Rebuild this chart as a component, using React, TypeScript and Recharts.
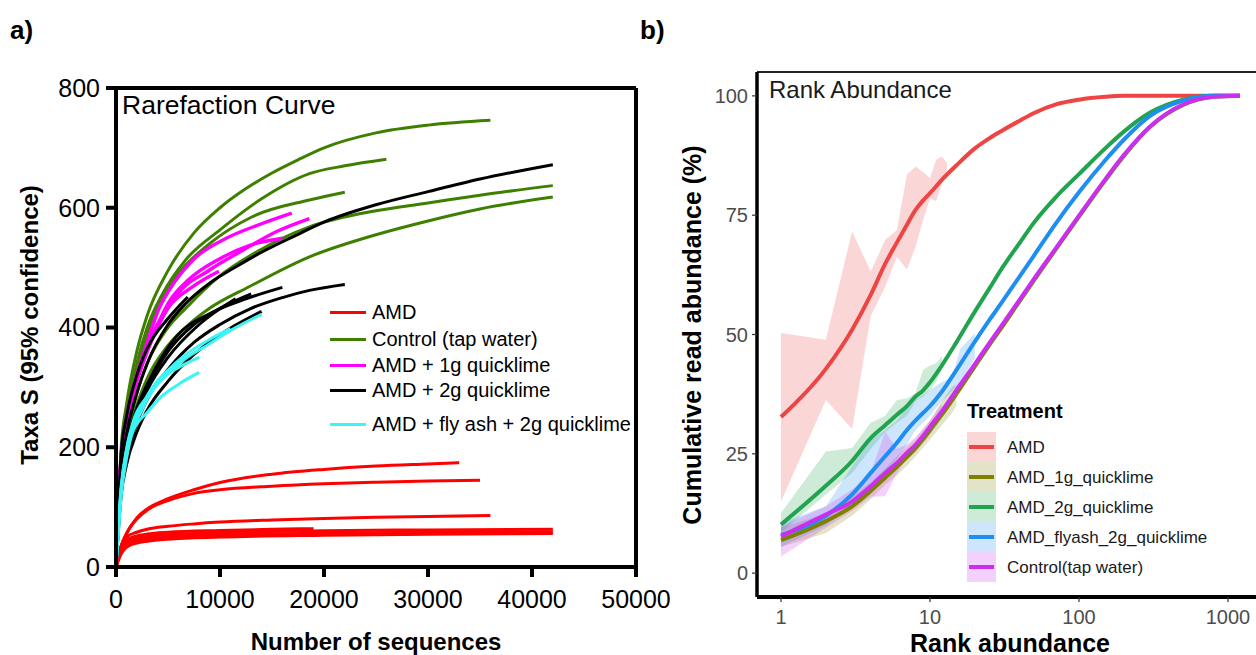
import React from "react";
import {
  LineChart, Line, ComposedChart, Area, XAxis, YAxis, ReferenceLine,
} from "recharts";

const FONT = "'Liberation Sans', Arial, Helvetica, sans-serif";

// ---------- a) Rarefaction curves: [number of sequences, taxa S] per sample
const AMD_CURVES: [number, number][][] = [
  [[0, 0], [500, 35], [1000, 56], [2000, 82], [3000, 97], [5000, 114], [7500, 129], [10000, 141], [15000, 155], [20000, 163], [25000, 168.5], [30000, 172], [33000, 174]],
  [[0, 0], [500, 35], [1000, 55], [2000, 80], [3000, 95], [5000, 111], [7500, 123], [10000, 129], [15000, 135], [20000, 139], [25000, 141.5], [30000, 143.5], [35000, 145]],
  [[0, 0], [500, 35], [1000, 50], [2000, 58], [3000, 63], [5000, 68], [7500, 72], [10000, 75], [15000, 78.5], [20000, 81], [25000, 83], [30000, 84.5], [36000, 86]],
  [[0, 0], [500, 28], [1000, 42], [2000, 48], [3000, 51], [5000, 54], [10000, 57.5], [20000, 60.5], [30000, 62], [42000, 63]],
  [[0, 0], [500, 30], [1000, 45], [2000, 52], [3000, 55], [5000, 58], [10000, 61], [15000, 63], [19000, 64]],
  [[0, 0], [500, 25], [1000, 38], [2000, 44], [3000, 47], [5000, 50], [10000, 53.5], [20000, 56.5], [30000, 58], [42000, 59]],
  [[0, 0], [500, 22], [1000, 33], [2000, 40], [3000, 43], [5000, 46.5], [10000, 50], [20000, 53], [30000, 54.8], [42000, 56]],
];

const CONTROL_CURVES: [number, number][][] = [
  [[0, 0], [500, 200], [1000, 270], [2000, 360], [3000, 420], [5000, 495], [7500, 558], [10000, 600], [12500, 632], [15000, 658], [17500, 680], [20000, 700], [25000, 725], [30000, 738], [36000, 746]],
  [[0, 0], [500, 190], [1000, 255], [2000, 340], [3000, 400], [4500, 457], [6700, 513], [10000, 563], [14000, 615], [18600, 657], [22000, 670], [26000, 681]],
  [[0, 0], [500, 185], [1000, 250], [2000, 330], [3000, 390], [4100, 440], [5750, 485], [9000, 540], [13100, 585], [18600, 613], [22000, 626]],
  [[0, 0], [500, 150], [1000, 210], [2000, 290], [3000, 340], [5000, 400], [6700, 432], [9900, 485], [13800, 529], [18600, 568], [25000, 595], [30000, 608], [35000, 621], [42000, 637]],
  [[0, 0], [500, 140], [1000, 200], [2000, 270], [3000, 315], [5000, 370], [7000, 405], [9000, 432], [12800, 468], [18600, 518], [25000, 555], [30000, 578], [35000, 598], [42000, 618]],
];

const Q1G_CURVES: [number, number][][] = [
  [[0, 0], [500, 185], [1000, 245], [2000, 320], [3000, 375], [4100, 430], [5100, 462], [7350, 512], [10600, 549], [13800, 572], [16900, 591]],
  [[0, 0], [500, 180], [1000, 240], [2000, 310], [3000, 360], [4000, 400], [5750, 452], [9000, 496], [12200, 529], [15400, 560], [18600, 582]],
  [[0, 0], [500, 180], [1000, 240], [2000, 310], [3000, 360], [5000, 440], [7000, 480], [10000, 515], [13000, 538], [16000, 549]],
  [[0, 0], [500, 185], [1000, 245], [2000, 320], [3000, 370], [5100, 435], [7350, 468], [9900, 494]],
];

const Q2G_CURVES: [number, number][][] = [
  [[0, 0], [500, 160], [1000, 220], [2000, 290], [3000, 340], [5000, 405], [6700, 440], [9000, 474], [11500, 501], [13800, 524], [17300, 554], [20000, 576], [25000, 605], [30000, 627], [35000, 648], [42000, 672]],
  [[0, 0], [500, 130], [1000, 180], [2000, 240], [3000, 280], [5000, 330], [7500, 375], [10000, 405], [13000, 432], [16000, 450], [18600, 462], [22000, 472]],
  [[0, 0], [500, 150], [1000, 200], [2000, 265], [3000, 305], [5750, 384], [9000, 423], [12200, 446], [16000, 467]],
  [[0, 0], [500, 145], [1000, 195], [2000, 260], [3000, 300], [5000, 360], [7500, 405], [10000, 432], [13000, 456]],
  [[0, 0], [500, 120], [1000, 170], [2000, 225], [3000, 262], [5000, 310], [7500, 355], [10000, 388], [14000, 427]],
  [[0, 0], [500, 190], [1000, 250], [2000, 320], [3000, 365], [5000, 415], [6900, 451]],
  [[0, 0], [500, 140], [1000, 190], [2000, 255], [3000, 295], [5000, 350], [8000, 405], [11500, 448]],
];

const FLYASH_CURVES: [number, number][][] = [
  [[0, 0], [500, 130], [1000, 190], [2500, 262], [5700, 334], [9000, 373], [11000, 395], [14000, 422]],
  [[0, 0], [500, 135], [1000, 195], [2500, 268], [5700, 340], [9000, 380], [11000, 398]],
  [[0, 0], [500, 130], [1000, 195], [1600, 240], [3000, 285], [4100, 310], [6000, 333], [8000, 350]],
  [[0, 0], [500, 120], [1000, 180], [1600, 225], [3000, 258], [4100, 280], [6000, 305], [8000, 325]],
];

const A_X_TICKS = [0, 10000, 20000, 30000, 40000, 50000];
const A_Y_TICKS = [0, 200, 400, 600, 800];

const A_GROUPS = [
  { name: "AMD", color: "#FF0000", curves: AMD_CURVES, width: 3 },
  { name: "Control (tap water)", color: "#3F7F00", curves: CONTROL_CURVES, width: 3 },
  { name: "AMD + 1g quicklime", color: "#FF00FF", curves: Q1G_CURVES, width: 3.4 },
  { name: "AMD + 2g quicklime", color: "#000000", curves: Q2G_CURVES, width: 3 },
  { name: "AMD + fly ash + 2g quicklime", color: "#3CF4F4", curves: FLYASH_CURVES, width: 3 },
];
const A_LEGEND_Y = [312, 339, 365, 390, 424];

// ---------- b) Rank abundance: cumulative read abundance (%) at rank
const LINE_RANKS = [1, 2, 3, 4, 5, 6, 7, 8, 9, 10, 12, 15, 20, 25, 30, 40, 50, 70, 100, 150, 200, 300, 500, 800, 1200];
const AMD_CUM = [32.7, 42.8, 51, 58.3, 64.8, 69.3, 73, 76.1, 78.1, 79.6, 82.4, 85.4, 89, 91.1, 92.6, 94.8, 96.4, 98.2, 99.2, 99.8, 100, 100, 100, 100, 100];
const Q1G_CUM = [6.9, 10.9, 14, 17.2, 20, 22.3, 24.3, 26.2, 28.1, 30, 33.2, 37.5, 43.3, 47.8, 51.3, 57, 61.4, 67.9, 74.7, 82.3, 87.4, 93.5, 98.1, 99.8, 100];
const Q2G_CUM = [10.2, 18.3, 23.5, 28.3, 31, 33.2, 35, 37, 38.3, 40, 43.5, 48.3, 54.8, 59.6, 63.6, 69.2, 73.5, 78.8, 83.6, 89, 92.5, 96.5, 99.2, 100, 100];
const FLY_CUM = [8, 12, 16.5, 21, 24.5, 27.3, 30, 32, 33.6, 35, 38, 42.5, 48.5, 53, 56.5, 62.2, 66.6, 73.3, 79.8, 86.5, 90.8, 95.8, 99, 100, 100];
const CTRL_CUM = [7.7, 12.3, 15, 18.2, 21, 23.1, 25.2, 26.9, 28.8, 30.7, 33.9, 38.3, 43.8, 48.2, 51.7, 57.3, 61.7, 68.1, 74.9, 82.5, 87.6, 93.6, 98.2, 99.8, 100];

// confidence ribbons (low / high) at low ranks
const AMD_BAND_RANKS = [1, 2, 3, 4, 5, 6, 7, 8, 9, 10, 11, 12, 13];
const AMD_BAND_LO = [15, 36.3, 30.2, 53.8, 60, 66.3, 63.6, 68.4, 74, 78.5, 77.9, 81.5, 84.5];
const AMD_BAND_HI = [50.3, 48.9, 71.6, 63.2, 69.8, 71.9, 83.5, 85.2, 84, 82.8, 86.6, 87.3, 86];
const Q1G_BAND_RANKS = [1, 2, 3, 4, 5, 6, 7, 8, 10, 12, 14, 15];
const Q1G_BAND_LO = [5.5, 8.4, 12, 15.5, 18.5, 20.5, 22.5, 24.5, 28, 31, 33.5, 35];
const Q1G_BAND_HI = [9.5, 12.5, 16, 19, 22, 24.5, 26.5, 28, 32, 36, 39, 39.5];
const Q2G_BAND_RANKS = [1, 2, 3, 4, 5, 6, 7, 8, 9, 10, 11, 12];
const Q2G_BAND_LO = [8.5, 16.5, 21, 26, 29.5, 31.5, 33, 36, 37, 38.5, 40, 43];
const Q2G_BAND_HI = [12.6, 25.5, 26.2, 31.5, 33, 36.3, 36.6, 37.8, 42.6, 43.5, 44, 45.5];
const FLY_BAND_RANKS = [1, 2, 3, 4, 5, 6, 7, 8, 10, 12, 14, 16, 20];
const FLY_BAND_LO = [5.5, 10, 14, 17.5, 20, 24, 27, 30, 33, 36, 38, 40, 45];
const FLY_BAND_HI = [10.5, 14, 22.4, 28, 30, 32, 35, 36.3, 38.5, 40, 41, 47, 50.3];
const CTRL_BAND_RANKS = [1, 2, 3, 4, 5, 6, 7, 8, 10, 12];
const CTRL_BAND_LO = [3.5, 9.5, 13, 16, 16.1, 21, 24, 25.5, 29, 32.5];
const CTRL_BAND_HI = [9.8, 14, 17.5, 21, 29.7, 26, 27, 28.5, 32, 35.5];

const B_X_TICKS = [1, 10, 100, 1000];
const B_Y_TICKS = [0, 25, 50, 75, 100];

const B_SERIES = [
  { key: "amd", name: "AMD", color: "#EE4444", cum: AMD_CUM, bandRanks: AMD_BAND_RANKS, lo: AMD_BAND_LO, hi: AMD_BAND_HI },
  { key: "q1g", name: "AMD_1g_quicklime", color: "#808000", cum: Q1G_CUM, bandRanks: Q1G_BAND_RANKS, lo: Q1G_BAND_LO, hi: Q1G_BAND_HI },
  { key: "q2g", name: "AMD_2g_quicklime", color: "#22A34F", cum: Q2G_CUM, bandRanks: Q2G_BAND_RANKS, lo: Q2G_BAND_LO, hi: Q2G_BAND_HI },
  { key: "fly", name: "AMD_flyash_2g_quicklime", color: "#1E8FF0", cum: FLY_CUM, bandRanks: FLY_BAND_RANKS, lo: FLY_BAND_LO, hi: FLY_BAND_HI },
  { key: "ctrl", name: "Control(tap water)", color: "#CC2EF0", cum: CTRL_CUM, bandRanks: CTRL_BAND_RANKS, lo: CTRL_BAND_LO, hi: CTRL_BAND_HI },
];

function buildRankTable() {
  const rows = new Map<number, Record<string, any>>();
  const row = (r: number) => {
    if (!rows.has(r)) rows.set(r, { rank: r });
    return rows.get(r)!;
  };
  B_SERIES.forEach((s) => {
    LINE_RANKS.forEach((r, i) => { row(r)[s.key] = s.cum[i]; });
    s.bandRanks.forEach((r, i) => { row(r)[s.key + "Band"] = [s.lo[i], s.hi[i]]; });
  });
  return [...rows.values()].sort((a, b) => a.rank - b.rank);
}
const RANK_TABLE = buildRankTable();

// small text helper for titles and legends
function Txt({ x, y, size, bold, color, center, rotate, children }: any) {
  let transform = "translateY(-50%)";
  if (center) transform = "translate(-50%, -50%)";
  if (rotate) transform = "translate(-50%, -50%) rotate(-90deg)";
  return (
    <div style={{
      position: "absolute", left: x, top: y, fontSize: size, fontWeight: bold ? 700 : 400,
      color: color ?? "#000", lineHeight: 1, whiteSpace: "nowrap", transform,
    }}>{children}</div>
  );
}

function RarefactionPanel() {
  return (
    <div style={{ position: "absolute", left: 0, top: 0, width: 700, height: 655 }}>
      <LineChart width={700} height={655} margin={{ top: 88, right: 64, bottom: 0, left: 0 }}>
        <XAxis
          dataKey="n" type="number" domain={[0, 50000]} ticks={A_X_TICKS} height={88}
          axisLine={{ stroke: "#000", strokeWidth: 4 }} tickLine={{ stroke: "#000", strokeWidth: 4 }}
          tickSize={10} tickMargin={13} interval={0}
          tick={{ fill: "#000", fontSize: 25, fontFamily: FONT }} allowDuplicatedCategory={false}
        />
        <YAxis
          type="number" domain={[0, 800]} ticks={A_Y_TICKS} width={116}
          axisLine={{ stroke: "#000", strokeWidth: 4 }} tickLine={{ stroke: "#000", strokeWidth: 4 }}
          tickSize={10} tickMargin={6} interval={0}
          tick={{ fill: "#000", fontSize: 25, fontFamily: FONT }}
        />
        <ReferenceLine y={800} stroke="#000" strokeWidth={4} />
        <ReferenceLine x={50000} stroke="#000" strokeWidth={4} />
        {A_GROUPS.map((g) =>
          g.curves.map((c, i) => (
            <Line
              key={g.name + i} data={c.map(([n, s]) => ({ n, s }))} dataKey="s"
              type="monotone" stroke={g.color} strokeWidth={g.width} dot={false}
              activeDot={false} isAnimationActive={false}
            />
          ))
        )}
      </LineChart>
      <Txt x={122} y={105} size={26.5}>Rarefaction Curve</Txt>
      {A_GROUPS.map((g, i) => (
        <React.Fragment key={g.name}>
          <div style={{ position: "absolute", left: 330, top: A_LEGEND_Y[i] - 1.5, width: 36, height: 3, background: g.color }} />
          <Txt x={372} y={A_LEGEND_Y[i]} size={20}>{g.name}</Txt>
        </React.Fragment>
      ))}
      <Txt x={30} y={325} size={24} bold rotate>Taxa S (95% confidence)</Txt>
      <Txt x={376} y={642} size={24} bold center>Number of sequences</Txt>
    </div>
  );
}

function RankPanel() {
  return (
    <div style={{ position: "absolute", left: 640, top: 0, width: 616, height: 655 }}>
      <ComposedChart width={616} height={655} data={RANK_TABLE} margin={{ top: 72, right: 0, bottom: 0, left: 0 }}>
        <XAxis
          dataKey="rank" type="number" scale="log" domain={[0.69, 1542]} allowDataOverflow
          ticks={B_X_TICKS} height={58} interval={0}
          axisLine={{ stroke: "#000", strokeWidth: 4 }} tickLine={{ stroke: "#333", strokeWidth: 1.2 }}
          tickSize={5} tickMargin={8}
          tick={{ fill: "#4D4D4D", fontSize: 20, fontFamily: FONT }}
        />
        <YAxis
          type="number" domain={[-5, 105]} ticks={B_Y_TICKS} width={117} interval={0}
          axisLine={{ stroke: "#000", strokeWidth: 3.5 }} tickLine={{ stroke: "#333", strokeWidth: 1.2 }}
          tickSize={5} tickMargin={4}
          tick={{ fill: "#4D4D4D", fontSize: 20, fontFamily: FONT }}
        />
        <ReferenceLine y={105} stroke="#222" strokeWidth={2} />
        {B_SERIES.map((s) => (
          <Area
            key={s.key + "Band"} dataKey={s.key + "Band"} type="linear" fill={s.color}
            fillOpacity={0.22} stroke="none" connectNulls dot={false} activeDot={false}
            isAnimationActive={false}
          />
        ))}
        {B_SERIES.map((s) => (
          <Line
            key={s.key} dataKey={s.key} type="monotone" stroke={s.color} strokeWidth={4}
            connectNulls dot={false} activeDot={false} isAnimationActive={false}
          />
        ))}
      </ComposedChart>
      <Txt x={129} y={90} size={24} color="#1a1a1a">Rank Abundance</Txt>
      <Txt x={327} y={411} size={20} bold>Treatment</Txt>
      {B_SERIES.map((s, i) => (
        <React.Fragment key={s.key}>
          <div style={{ position: "absolute", left: 327, top: 432 + i * 30, width: 29, height: 30, background: s.color, opacity: 0.22 }} />
          <div style={{ position: "absolute", left: 329, top: 445 + i * 30, width: 25, height: 4, background: s.color }} />
          <Txt x={367} y={447 + i * 30} size={17} color="#1a1a1a">{s.name}</Txt>
        </React.Fragment>
      ))}
      <Txt x={52} y={335} size={25} bold rotate>Cumulative read abundance (%)</Txt>
      <Txt x={370} y={643} size={25} bold center>Rank abundance</Txt>
    </div>
  );
}

export default function App() {
  return (
    <div style={{
      position: "fixed", left: 0, top: 0, width: 1256, height: 655, overflow: "hidden",
      background: "#fff", fontFamily: FONT,
    }}>
      <RarefactionPanel />
      <RankPanel />
      <Txt x={10} y={30} size={26} bold>a)</Txt>
      <Txt x={640} y={30} size={26} bold>b)</Txt>
    </div>
  );
}
